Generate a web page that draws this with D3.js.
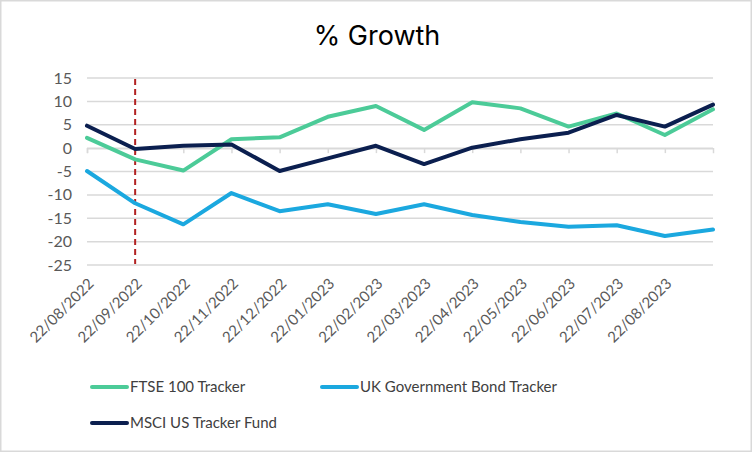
<!DOCTYPE html>
<html><head><meta charset="utf-8">
<script src="https://cdn.jsdelivr.net/npm/d3@7"></script>
<style>body{margin:0;background:#fff}svg{display:block}</style>
</head><body><svg id="c" width="752" height="452"></svg>
<script>
const categories = ["22/08/2022","22/09/2022","22/10/2022","22/11/2022","22/12/2022","22/01/2023","22/02/2023","22/03/2023","22/04/2023","22/05/2023","22/06/2023","22/07/2023","22/08/2023","22/09/2023"];
const tickLabels = ["22/08/2022","22/09/2022","22/10/2022","22/11/2022","22/12/2022","22/01/2023","22/02/2023","22/03/2023","22/04/2023","22/05/2023","22/06/2023","22/07/2023","22/08/2023"];
const ftse = [2.2,-2.4,-4.8,1.9,2.3,6.7,9.0,3.9,9.8,8.5,4.6,7.4,2.8,8.3];
const bond = [-4.9,-11.8,-16.3,-9.6,-13.5,-12.0,-14.1,-12.0,-14.3,-15.8,-16.8,-16.5,-18.8,-17.4];
const msci = [4.8,-0.2,0.5,0.8,-4.9,-2.2,0.5,-3.4,0.1,1.9,3.3,7.1,4.6,9.3];
const yTicks = [15,10,5,0,-5,-10,-15,-20,-25];
const markerDate = "22/09/2022";

const series = [
  {name:"FTSE 100 Tracker", values:ftse, color:"#4ccb98"},
  {name:"UK Government Bond Tracker", values:bond, color:"#1ba8df"},
  {name:"MSCI US Tracker Fund", values:msci, color:"#0b1f4f"}
];
const drawOrder = [series[1], series[0], series[2]];

const svg = d3.select("#c");
const font = "Lato, 'Open Sans', sans-serif";
svg.append("rect").attr("x",0.75).attr("y",0.75).attr("width",750.5).attr("height",450.5)
  .attr("fill","#fff").attr("stroke","#d9d9d9").attr("stroke-width",1.5);

const x = d3.scalePoint().domain(categories).range([87,713]);
const y = d3.scaleLinear().domain([-25,15]).range([265,78]);

svg.append("text").attr("x",377).attr("y",45).attr("text-anchor","middle")
  .attr("font-family","Inter, sans-serif").attr("font-size",27).attr("fill","#000").text("% Growth");

// grid
svg.append("g").selectAll("line").data(yTicks).join("line")
  .attr("x1",87).attr("x2",713).attr("y1",d=>y(d)).attr("y2",d=>y(d))
  .attr("stroke","#d9d9d9").attr("stroke-width",1.5);

// y labels
svg.append("g").selectAll("text").data(yTicks).join("text")
  .attr("x",72).attr("y",d=>y(d)).attr("dy","0.35em").attr("text-anchor","end")
  .attr("font-family",font).attr("font-size",16).attr("fill","#595959").text(d=>d);

// x axis at zero with ticks
const xAxis = d3.axisBottom(x).tickValues(tickLabels).tickSize(5).tickFormat("");
const gx = svg.append("g").attr("transform",`translate(0,${y(0)})`).call(xAxis);
gx.select(".domain").attr("stroke","#d9d9d9").attr("stroke-width",1.5);
gx.selectAll(".tick line").attr("stroke","#d9d9d9").attr("stroke-width",1.5);

// x labels rotated
svg.append("g").selectAll("text").data(tickLabels).join("text")
  .attr("transform",d=>`translate(${x(d)+4},${281}) rotate(-45)`)
  .attr("text-anchor","end").attr("dy","0.35em")
  .attr("font-family",font).attr("font-size",15).attr("fill","#595959").text(d=>d);

// dashed marker
svg.append("line").attr("x1",x(markerDate)).attr("x2",x(markerDate))
  .attr("y1",79).attr("y2",264).attr("stroke","#b22222").attr("stroke-width",2)
  .attr("stroke-dasharray","6,4");

const line = d3.line().x((d,i)=>x(categories[i])).y(d=>y(d));
svg.append("g").selectAll("path").data(drawOrder).join("path")
  .attr("d",d=>line(d.values)).attr("fill","none").attr("stroke",d=>d.color)
  .attr("stroke-width",4).attr("stroke-linejoin","round").attr("stroke-linecap","round");

// legend
const legendPos = [[92,387],[322,387],[92,423]];
const lg = svg.append("g").selectAll("g").data(series).join("g")
  .attr("transform",(d,i)=>`translate(${legendPos[i][0]},${legendPos[i][1]})`);
lg.append("line").attr("x1",0).attr("x2",35).attr("stroke",d=>d.color).attr("stroke-width",4).attr("stroke-linecap","round");
lg.append("text").attr("x",38).attr("dy","0.35em").attr("font-family",font).attr("font-size",15)
  .attr("fill","#404040").text(d=>d.name);
</script></body></html>
